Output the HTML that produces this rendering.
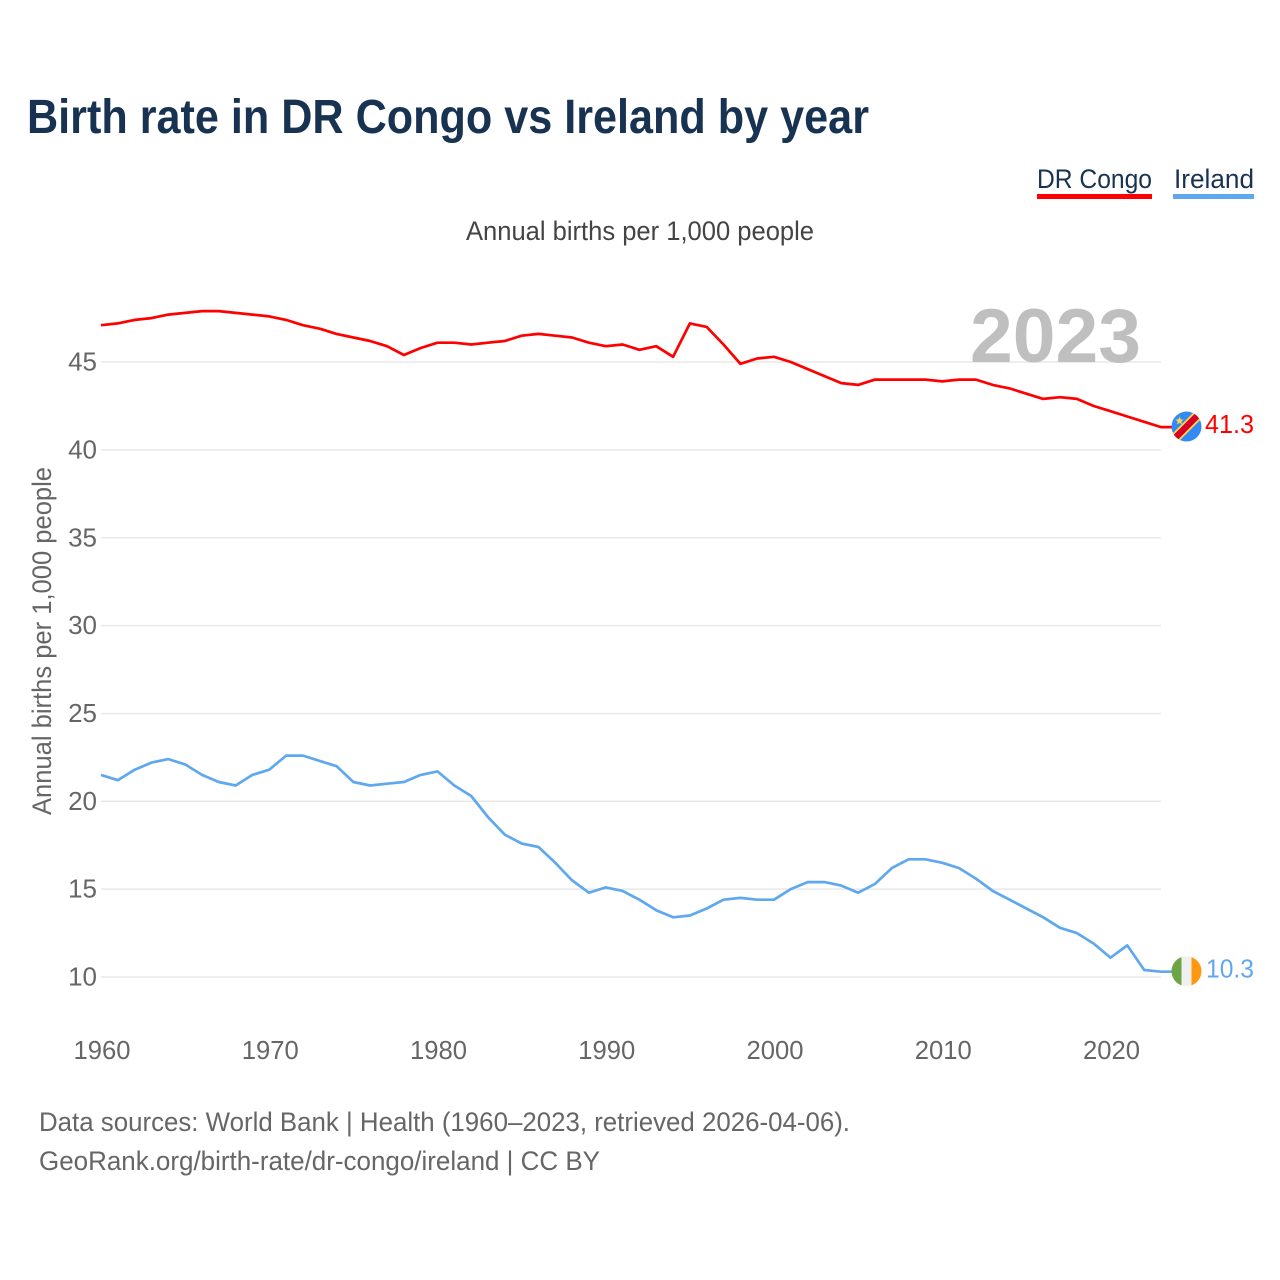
<!DOCTYPE html>
<html lang="en">
<head>
<meta charset="utf-8">
<title>Birth rate in DR Congo vs Ireland by year</title>
<style>
html,body{margin:0;padding:0;background:#fff;}
svg{display:block;font-family:"Liberation Sans",sans-serif;}
</style>
</head>
<body>
<svg id="chart" xmlns="http://www.w3.org/2000/svg" width="1280" height="1280" viewBox="0 0 1280 1280">
  <rect x="0" y="0" width="1280" height="1280" fill="#ffffff"/>
  <text x="27" y="133" font-size="48" font-weight="700" fill="#183252" textLength="842" lengthAdjust="spacingAndGlyphs">Birth rate in DR Congo vs Ireland by year</text>
  <g>
    <text x="1037" y="188" font-size="27" fill="#183252" textLength="115" lengthAdjust="spacingAndGlyphs">DR Congo</text>
    <rect x="1037" y="194" width="115" height="5" fill="#ff0000"/>
  </g>
  <g>
    <text x="1174" y="188" font-size="27" fill="#183252" textLength="80" lengthAdjust="spacingAndGlyphs">Ireland</text>
    <rect x="1173" y="194" width="81" height="5" fill="#5fa8ee"/>
  </g>
  <text x="466" y="240" font-size="27" fill="#444444" textLength="348" lengthAdjust="spacingAndGlyphs">Annual births per 1,000 people</text>
  <text transform="translate(51,815) rotate(-90)" font-size="27" fill="#666666" textLength="348" lengthAdjust="spacingAndGlyphs">Annual births per 1,000 people</text>
  <g id="grid"></g>
  <g id="yticks"></g>
  <g id="xticks"></g>
  <text x="970" y="362" font-size="76" font-weight="700" fill="#bfbfbf" textLength="171" lengthAdjust="spacingAndGlyphs">2023</text>
  <g id="series"></g>
  <g id="flag-congo">
    <defs><clipPath id="clip-congo"><circle cx="0" cy="0" r="15"/></clipPath><clipPath id="clip-ireland"><circle cx="0" cy="0" r="15"/></clipPath></defs>
    <g clip-path="url(#clip-congo)">
      <rect x="-15" y="-15" width="30" height="30" fill="#338af3"/>
      <line x1="-19" y1="19" x2="19" y2="-19" stroke="#ffda44" stroke-width="10"/>
      <line x1="-19" y1="19" x2="19" y2="-19" stroke="#d80027" stroke-width="6.5"/>
      <polygon points="-7,-10 -5.8,-7 -2.8,-7 -5.2,-5 -4.4,-2 -7,-3.8 -9.6,-2 -8.8,-5 -11.2,-7 -8.2,-7" fill="#ffda44"/>
    </g>
  </g>
  <g id="flag-ireland">
    <g clip-path="url(#clip-ireland)">
      <rect x="-15" y="-15" width="10" height="30" fill="#6da544"/>
      <rect x="-5" y="-15" width="10" height="30" fill="#f0f0f0"/>
      <rect x="5" y="-15" width="10" height="30" fill="#ff9811"/>
    </g>
  </g>
  <text id="value-congo" x="1205" font-size="26" fill="#ff0000" textLength="49" lengthAdjust="spacingAndGlyphs"></text>
  <text id="value-ireland" x="1206" font-size="26" fill="#5fa8ee" textLength="48" lengthAdjust="spacingAndGlyphs"></text>
  <text x="39" y="1131" font-size="27" fill="#666666" textLength="811" lengthAdjust="spacingAndGlyphs">Data sources: World Bank | Health (1960–2023, retrieved 2026-04-06).</text>
  <text x="39" y="1170" font-size="27" fill="#666666" textLength="561" lengthAdjust="spacingAndGlyphs">GeoRank.org/birth-rate/dr-congo/ireland | CC BY</text>
</svg>
<script>
const firstYear = 1960;
const lastYear = 2023;
const yTickValues = [10, 15, 20, 25, 30, 35, 40, 45];
const xTickYears = [1960, 1970, 1980, 1990, 2000, 2010, 2020];
const drCongoRates = [47.1,47.2,47.4,47.5,47.7,47.8,47.9,47.9,47.8,47.7,47.6,47.4,47.1,46.9,46.6,46.4,46.2,45.9,45.4,45.8,46.1,46.1,46.0,46.1,46.2,46.5,46.6,46.5,46.4,46.1,45.9,46.0,45.7,45.9,45.3,47.2,47.0,46.0,44.9,45.2,45.3,45.0,44.6,44.2,43.8,43.7,44.0,44.0,44.0,44.0,43.9,44.0,44.0,43.7,43.5,43.2,42.9,43.0,42.9,42.5,42.2,41.9,41.6,41.3];
const irelandRates = [21.5,21.2,21.8,22.2,22.4,22.1,21.5,21.1,20.9,21.5,21.8,22.6,22.6,22.3,22.0,21.1,20.9,21.0,21.1,21.5,21.7,20.9,20.3,19.1,18.1,17.6,17.4,16.5,15.5,14.8,15.1,14.9,14.4,13.8,13.4,13.5,13.9,14.4,14.5,14.4,14.4,15.0,15.4,15.4,15.2,14.8,15.3,16.2,16.7,16.7,16.5,16.2,15.6,14.9,14.4,13.9,13.4,12.8,12.5,11.9,11.1,11.8,10.4,10.3];

const NS = 'http://www.w3.org/2000/svg';
const plotLeft = 101, plotRight = 1161;
function xScale(year) {
  return plotLeft + (year - firstYear) * (plotRight - plotLeft) / (lastYear - firstYear);
}
function yScale(value) {
  return 977 - (value - 10) * 17.57;
}

const grid = document.getElementById('grid');
const yticks = document.getElementById('yticks');
yTickValues.forEach(function (v) {
  const line = document.createElementNS(NS, 'line');
  
  
  line.setAttribute('x1', plotLeft);
  line.setAttribute('x2', plotRight);
  line.setAttribute('y1', yScale(v));
  line.setAttribute('y2', yScale(v));
  line.setAttribute('stroke', '#e8e8e8');
  line.setAttribute('stroke-width', '1.5');
  grid.appendChild(line);

  const label = document.createElementNS(NS, 'text');
  
  
  label.setAttribute('x', 97);
  label.setAttribute('y', yScale(v) + 8.5);
  label.setAttribute('text-anchor', 'end');
  label.setAttribute('font-size', '26');
  label.setAttribute('fill', '#666666');
  label.textContent = v;
  yticks.appendChild(label);
});

const xticks = document.getElementById('xticks');
xTickYears.forEach(function (year) {
  const label = document.createElementNS(NS, 'text');
  
  
  label.setAttribute('x', xScale(year) + 1);
  label.setAttribute('y', 1059);
  label.setAttribute('text-anchor', 'middle');
  label.setAttribute('font-size', '26');
  label.setAttribute('fill', '#666666');
  label.setAttribute('textLength', '57');
  label.setAttribute('lengthAdjust', 'spacingAndGlyphs');
  label.textContent = year;
  xticks.appendChild(label);
});

function linePoints(values) {
  const pts = values.map(function (v, i) {
    return xScale(firstYear + i).toFixed(1) + ',' + yScale(v).toFixed(1);
  });
  pts.push('1172,' + yScale(values[values.length - 1]).toFixed(1));
  return pts.join(' ');
}

const series = document.getElementById('series');
const congoLine = document.createElementNS(NS, 'polyline');


congoLine.setAttribute('points', linePoints(drCongoRates));
congoLine.setAttribute('fill', 'none');
congoLine.setAttribute('stroke', '#ff0000');
congoLine.setAttribute('stroke-width', '2.7');
congoLine.setAttribute('stroke-linejoin', 'round');
series.appendChild(congoLine);

const irelandLine = document.createElementNS(NS, 'polyline');


irelandLine.setAttribute('points', linePoints(irelandRates));
irelandLine.setAttribute('fill', 'none');
irelandLine.setAttribute('stroke', '#5fa8ee');
irelandLine.setAttribute('stroke-width', '2.7');
irelandLine.setAttribute('stroke-linejoin', 'round');
series.appendChild(irelandLine);

const congoLast = drCongoRates[drCongoRates.length - 1];
const irelandLast = irelandRates[irelandRates.length - 1];
document.getElementById('flag-congo').setAttribute('transform', 'translate(1186.5,' + (yScale(congoLast) - 0.5) + ')');
document.getElementById('flag-ireland').setAttribute('transform', 'translate(1186.5,' + (yScale(irelandLast) - 0.5) + ')');
const congoValue = document.getElementById('value-congo');
congoValue.setAttribute('y', yScale(congoLast) + 6);
congoValue.textContent = congoLast.toFixed(1);
const irelandValue = document.getElementById('value-ireland');
irelandValue.setAttribute('y', yScale(irelandLast) + 6);
irelandValue.textContent = irelandLast.toFixed(1);
</script>
</body>
</html>
